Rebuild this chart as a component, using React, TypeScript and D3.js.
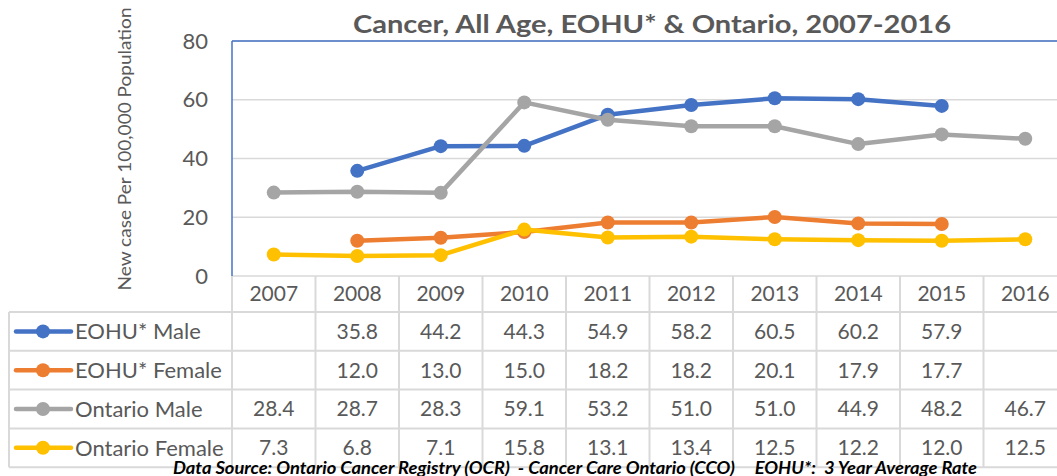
import React from "react";
import * as d3 from "d3";

const years = ["2007", "2008", "2009", "2010", "2011", "2012", "2013", "2014", "2015", "2016"];
const eohuMale = [null, 35.8, 44.2, 44.3, 54.9, 58.2, 60.5, 60.2, 57.9, null];
const eohuFemale = [null, 12.0, 13.0, 15.0, 18.2, 18.2, 20.1, 17.9, 17.7, null];
const ontarioMale = [28.4, 28.7, 28.3, 59.1, 53.2, 51.0, 51.0, 44.9, 48.2, 46.7];
const ontarioFemale = [7.3, 6.8, 7.1, 15.8, 13.1, 13.4, 12.5, 12.2, 12.0, 12.5];
const seriesNames = ["EOHU* Male", "EOHU* Female", "Ontario Male", "Ontario Female"];
const seriesColors = ["#4472C4", "#ED7D31", "#A5A5A5", "#FFC000"];
const yTicks = [0, 20, 40, 60, 80];
const titleText = "Cancer, All Age, EOHU* & Ontario, 2007-2016";
const yLabel = "New case Per 100,000 Population";
const footer = "Data Source: Ontario Cancer Registry (OCR)  - Cancer Care Ontario (CCO)     EOHU*:  3 Year Average Rate";

const W = 1057;
const H = 476;
const plotL = 232;
const plotR = 1067;
const plotT = 41;
const plotB = 276;
const headerB = 312;
const rowH = 38.8;
const tableL = 9;
const FONT = "Lato, 'Open Sans', sans-serif";
const TXT = "#595959";
const GRID = "#D9D9D9";

export default function App() {
  const x = d3.scaleBand<string>().domain(years).range([plotL, plotR]);
  const y = d3.scaleLinear().domain([0, 80]).range([plotB, plotT]);
  const allSeries = [eohuMale, eohuFemale, ontarioMale, ontarioFemale];
  const cx = (i: number) => (x(years[i]) as number) + x.bandwidth() / 2;
  const line = d3
    .line<number | null>()
    .defined((d) => d != null)
    .x((_, i) => cx(i))
    .y((d) => y(d as number));

  const rowsTop = headerB;
  const tableB = rowsTop + rowH * 4;

  return (
    <svg
      width={W}
      height={H}
      style={{ position: "absolute", left: 0, top: 0, background: "#fff" }}
      fontFamily={FONT}
    >
      <rect x={0} y={0} width={W} height={H} fill="#fff" />
      <text
        x={652}
        y={33}
        textAnchor="middle"
        fontSize={25}
        fontWeight="bold"
        fill={TXT}
        textLength={598}
        lengthAdjust="spacingAndGlyphs"
      >
        {titleText}
      </text>
      <text
        transform={`translate(131,149) rotate(-90)`}
        textAnchor="middle"
        fontSize={18}
        fill={TXT}
        textLength={283}
        lengthAdjust="spacingAndGlyphs"
      >
        {yLabel}
      </text>
      {yTicks.map((t) => (
        <line key={"g" + t} x1={plotL} x2={plotR} y1={y(t)} y2={y(t)} stroke={GRID} strokeWidth={1.5} />
      ))}
      {yTicks.map((t) => (
        <text key={"t" + t} x={208} y={y(t)} dy="0.35em" textAnchor="end" fontSize={22} fill={TXT}>
          {t}
        </text>
      ))}
      <line x1={plotL} x2={plotR} y1={plotT} y2={plotT} stroke="#4472C4" strokeWidth={1.5} />
      <line x1={plotL} x2={plotL} y1={plotT} y2={plotB} stroke="#4472C4" strokeWidth={1.5} />
      {years.map((yr) => (
        <line
          key={"v" + yr}
          x1={x(yr) as number}
          x2={x(yr) as number}
          y1={plotB}
          y2={tableB}
          stroke={GRID}
          strokeWidth={2}
        />
      ))}
      <line x1={plotR} x2={plotR} y1={plotB} y2={tableB} stroke={GRID} strokeWidth={2} />
      <line x1={tableL} x2={tableL} y1={rowsTop} y2={tableB} stroke={GRID} strokeWidth={2} />
      {[0, 1, 2, 3, 4].map((r) => (
        <line
          key={"h" + r}
          x1={tableL}
          x2={plotR}
          y1={rowsTop + r * rowH}
          y2={rowsTop + r * rowH}
          stroke={GRID}
          strokeWidth={2}
        />
      ))}
      {years.map((yr) => (
        <text
          key={"yr" + yr}
          x={(x(yr) as number) + x.bandwidth() / 2}
          y={(plotB + headerB) / 2}
          dy="0.35em"
          textAnchor="middle"
          fontSize={21}
          fill={TXT}
        >
          {yr}
        </text>
      ))}
      {allSeries.map((s, r) => {
        const cy = rowsTop + r * rowH + rowH / 2;
        return (
          <g key={"row" + r}>
            <line x1={16} x2={71} y1={cy} y2={cy} stroke={seriesColors[r]} strokeWidth={4.5} strokeLinecap="round" />
            <circle cx={43} cy={cy} r={7} fill={seriesColors[r]} />
            <text x={75} y={cy} dy="0.35em" fontSize={22} fill={TXT}>
              {seriesNames[r]}
            </text>
            {s.map((v, i) =>
              v == null ? null : (
                <text key={i} x={cx(i)} y={cy} dy="0.35em" textAnchor="middle" fontSize={21} fill={TXT}>
                  {v.toFixed(1)}
                </text>
              )
            )}
          </g>
        );
      })}
      {allSeries.map((s, r) => (
        <g key={"s" + r}>
          <path d={line(s) || ""} fill="none" stroke={seriesColors[r]} strokeWidth={4.5} strokeLinejoin="round" />
          {s.map((v, i) =>
            v == null ? null : <circle key={i} cx={cx(i)} cy={y(v)} r={7} fill={seriesColors[r]} />
          )}
        </g>
      ))}
      <text
        x={173}
        y={474}
        fontSize={16.5}
        fontWeight="bold"
        fontStyle="italic"
        fill="#000"
        textLength={804}
        lengthAdjust="spacingAndGlyphs"
        style={{ whiteSpace: "pre" }}
      >
        {footer}
      </text>
    </svg>
  );
}
